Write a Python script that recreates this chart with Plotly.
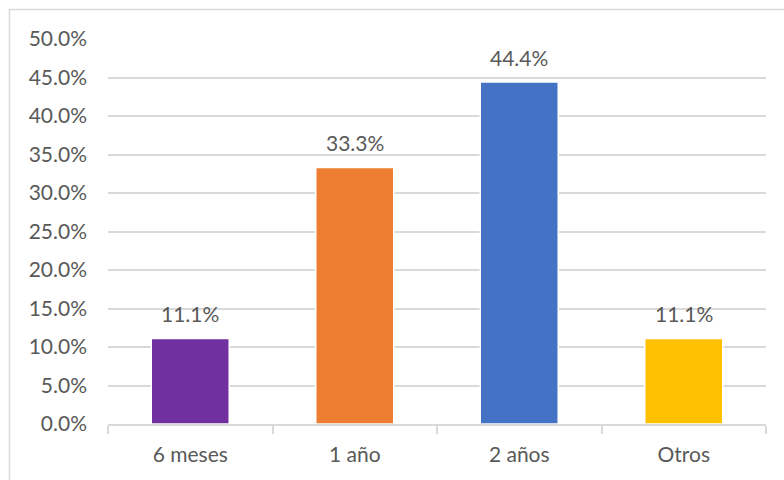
import plotly.graph_objects as go

# Data
categories = ["6 meses", "1 año", "2 años", "Otros"]
values = [11.1, 33.3, 44.4, 11.1]
bar_colors = ["#7030A0", "#ED7D31", "#4472C4", "#FFC000"]
y_ticks = [0, 5, 10, 15, 20, 25, 30, 35, 40, 45, 50]
y_tick_labels = [f"{v:.1f}%" for v in y_ticks]

TEXT = "#595959"
GRID = "#D9D9D9"
FONT = "Lato"
FS = 21

fig = go.Figure(
    go.Bar(
        x=categories,
        y=values,
        marker=dict(color=bar_colors, line=dict(color="white", width=1.5)),
        hoverinfo="x+y",
    )
)

# Value labels above each bar
for cat, val in zip(categories, values):
    fig.add_annotation(
        x=cat, y=val, text=f"{val:.1f}%", showarrow=False,
        yanchor="middle", yshift=25,
        font=dict(family=FONT, size=FS, color=TEXT),
    )

# Outer chart border
fig.add_shape(
    type="rect", xref="paper", yref="paper",
    x0=-0.1497, x1=1.2, y0=-0.3, y1=1.0766,
    line=dict(color=GRID, width=1.5), fillcolor="rgba(0,0,0,0)", layer="below",
)

fig.update_layout(
    width=784, height=480,
    margin=dict(l=108, r=18, t=39, b=56),
    paper_bgcolor="white", plot_bgcolor="white",
    bargap=0.526,
    showlegend=False,
    font=dict(family=FONT, size=FS, color=TEXT),
    xaxis=dict(
        showgrid=False, showline=True, linecolor=GRID, linewidth=1.5,
        ticks="outside", tickson="boundaries", ticklen=8, tickcolor=GRID, tickwidth=1.5,
        ticklabelstandoff=11,
        tickfont=dict(family=FONT, size=FS, color=TEXT),
    ),
    yaxis=dict(
        range=[0, 50], tickvals=y_ticks, ticktext=y_tick_labels,
        showgrid=True, gridcolor=GRID, gridwidth=1.5,
        zeroline=False, showline=False, ticks="",
        ticklabelstandoff=20,
        tickfont=dict(family=FONT, size=FS, color=TEXT),
    ),
)

fig.write_html("out.html")
